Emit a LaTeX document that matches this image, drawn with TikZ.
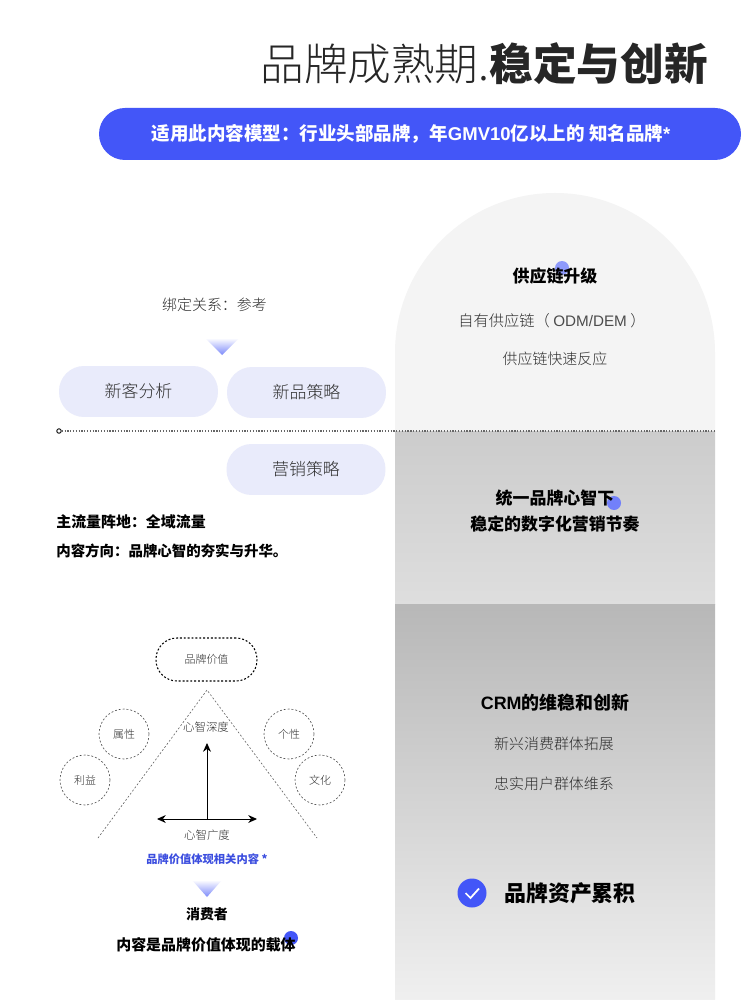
\documentclass[tikz,border=0pt]{standalone}
\usepackage{fontspec}
\setmainfont{Noto Sans CJK SC}
\newfontfamily\lightcjk{Noto Sans CJK SC Light}
\newfontfamily\blackcjk{Noto Sans CJK SC Black}
\newfontfamily\latinfont{Liberation Sans}
\usetikzlibrary{arrows.meta}
\definecolor{bandblue}{HTML}{4356F8}
\definecolor{pillblue}{HTML}{E9EBFB}
\definecolor{textgray}{HTML}{2E2E2E}
\newcommand{\pxsize}[1]{\fontsize{\dimexpr#1pt*5669/10000\relax}{\dimexpr#1pt*5669/10000\relax}\selectfont}
\tikzset{
    heavy/.style={inner sep=0pt, text=black, font=\blackcjk\pxsize{#1}},
    thin text/.style={inner sep=0pt, text=textgray, font=\lightcjk\pxsize{#1}},
    pillbox/.style={fill=pillblue, minimum width=3.18cm, minimum height=1.02cm,
        rounded corners=0.5cm, inner sep=0pt, text=textgray, font=\lightcjk\pxsize{17}},
    spot/.style={circle, inner sep=0pt, minimum size=0.28cm},
    ringbox/.style={circle, draw=black!70, dash pattern=on 1.1pt off 1.1pt, line width=0.35pt,
        minimum size=1cm, inner sep=0pt, text=textgray, font=\lightcjk\pxsize{11}},
    >={Stealth[length=5pt,width=4.5pt]},
}
\begin{document}
\begin{tikzpicture}[x=0.02cm, y=-0.02cm]
    \useasboundingbox (0,0) rectangle (750,1000);
    \fill[white] (0,0) rectangle (750,1000);

    \node[anchor=east, inner sep=0pt, text=black!85] (title) at (708,63.5)
        {\pxsize{43.8}{\lightcjk 品牌成熟期.}{\blackcjk 稳定与创新}};

    \fill[bandblue, rounded corners=0.52cm] (99,108) rectangle (741,160);
    \node[inner sep=0pt, text=white, font=\bfseries\pxsize{18.6}] (band) at (411,134)
        {适用此内容模型：行业头部品牌，年{\latinfont GMV10}亿以上的 知名品牌{\latinfont *}};

    % panels on the right
    \fill[black!4.5] (395,431) -- (395,353) arc[start angle=180, end angle=360, radius=160]
        -- (715,431) -- cycle;
    \shade[top color=black!20, bottom color=black!13] (395,431) rectangle (715,604);
    \shade[top color=black!28, bottom color=black!6] (395,604) rectangle (715,1000);

    \node[spot, fill=bandblue!60] (dotA) at (562,268) {};
    \node[heavy=17] (supply) at (555,276) {供应链升级};
    \node[thin text=15.3] (supplyA) at (552,321) {自有供应链（ {\latinfont\color{black!70}ODM/DEM} ）};
    \node[thin text=15] (supplyB) at (555,359) {供应链快速反应};

    \node[spot, fill=bandblue!75] (dotB) at (614,503) {};
    \node[heavy=17] (brandA) at (555,498) {统一品牌心智下};
    \node[heavy=17] (brandB) at (555,524) {稳定的数字化营销节奏};

    \node[heavy=18] (crm) at (555,703) {{\latinfont\bfseries CRM}的维稳和创新};
    \node[thin text=15] (crmA) at (554,744) {新兴消费群体拓展};
    \node[thin text=15] (crmB) at (554,784) {忠实用户群体维系};

    \node[circle, fill=bandblue, minimum size=0.58cm, inner sep=0pt] (check) at (472,893) {};
    \coordinate (checkA) at (465.5,893);
    \coordinate (checkB) at (470.5,898);
    \coordinate (checkC) at (479,888.5);
    \draw[white, line width=1pt] (checkA) -- (checkB) -- (checkC);
    \node[heavy=22] (asset) at (570,893) {品牌资产累积};

    % upper left
    \node[thin text=15] (bind) at (214.5,305) {绑定关系：参考};
    \shade[top color=white, bottom color=bandblue!70] (205,338) -- (239,338) -- (222,355) -- cycle;
    \node[pillbox] (newuser) at (138.5,391.5) {新客分析};
    \node[pillbox] (newgoods) at (306.5,392.5) {新品策略};
    \node[pillbox] (market) at (306,469.5) {营销策略};

    \node[circle, draw=black, line width=0.5pt, minimum size=0.09cm, inner sep=0pt] (start) at (59,431) {};
    \coordinate (stop) at (715,431);
    \draw[black!60, line width=0.6pt, dash pattern=on 0.7pt off 0.9pt] (start) -- (stop);

    \node[heavy=15, anchor=west] (flow) at (56,522) {主流量阵地：全域流量};
    \node[heavy=14.5, anchor=west] (aim) at (56,551) {内容方向：品牌心智的夯实与升华。};

    % lower left
    \node[draw=black, dash pattern=on 1.1pt off 1.1pt, line width=0.6pt, minimum width=2.02cm, minimum height=0.86cm,
        rounded corners=0.42cm, inner sep=0pt, text=textgray, font=\lightcjk\pxsize{11}] (value) at (206.5,659.5) {品牌价值};
    \coordinate (top) at (207,690);
    \coordinate (footL) at (98,838);
    \coordinate (footR) at (317,838);
    \draw[black!60, dash pattern=on 1.1pt off 1.1pt, line width=0.35pt] (footL) -- (top) -- (footR);

    \node[ringbox] (attr) at (124,734) {属性};
    \node[ringbox] (gain) at (85,780) {利益};
    \node[ringbox] (self) at (289,734) {个性};
    \node[ringbox] (culture) at (320,780) {文化};

    \node[thin text=11.5] (depth) at (206,727) {心智深度};
    \node[thin text=11.5] (width) at (207,835) {心智广度};
    \coordinate (axis) at (207,819);
    \coordinate (axisT) at (207,743);
    \coordinate (axisL) at (157,819);
    \coordinate (axisR) at (257,819);
    \draw[->, line width=0.55pt] (axis) -- (axisT);
    \draw[<->, line width=0.55pt] (axisL) -- (axisR);

    \node[inner sep=0pt, text=bandblue!90!black, font=\bfseries\pxsize{11.3}] (related) at (207,859) {品牌价值体现相关内容 *};
    \shade[top color=white, bottom color=bandblue!70] (192,880) -- (222,880) -- (207,897) -- cycle;
    \node[heavy=14] (buyer) at (207,914) {消费者};
    \node[spot, fill=bandblue] (dotC) at (291,938) {};
    \node[heavy=15] (carrier) at (206,945) {内容是品牌价值体现的载体};
\end{tikzpicture}
\end{document}
